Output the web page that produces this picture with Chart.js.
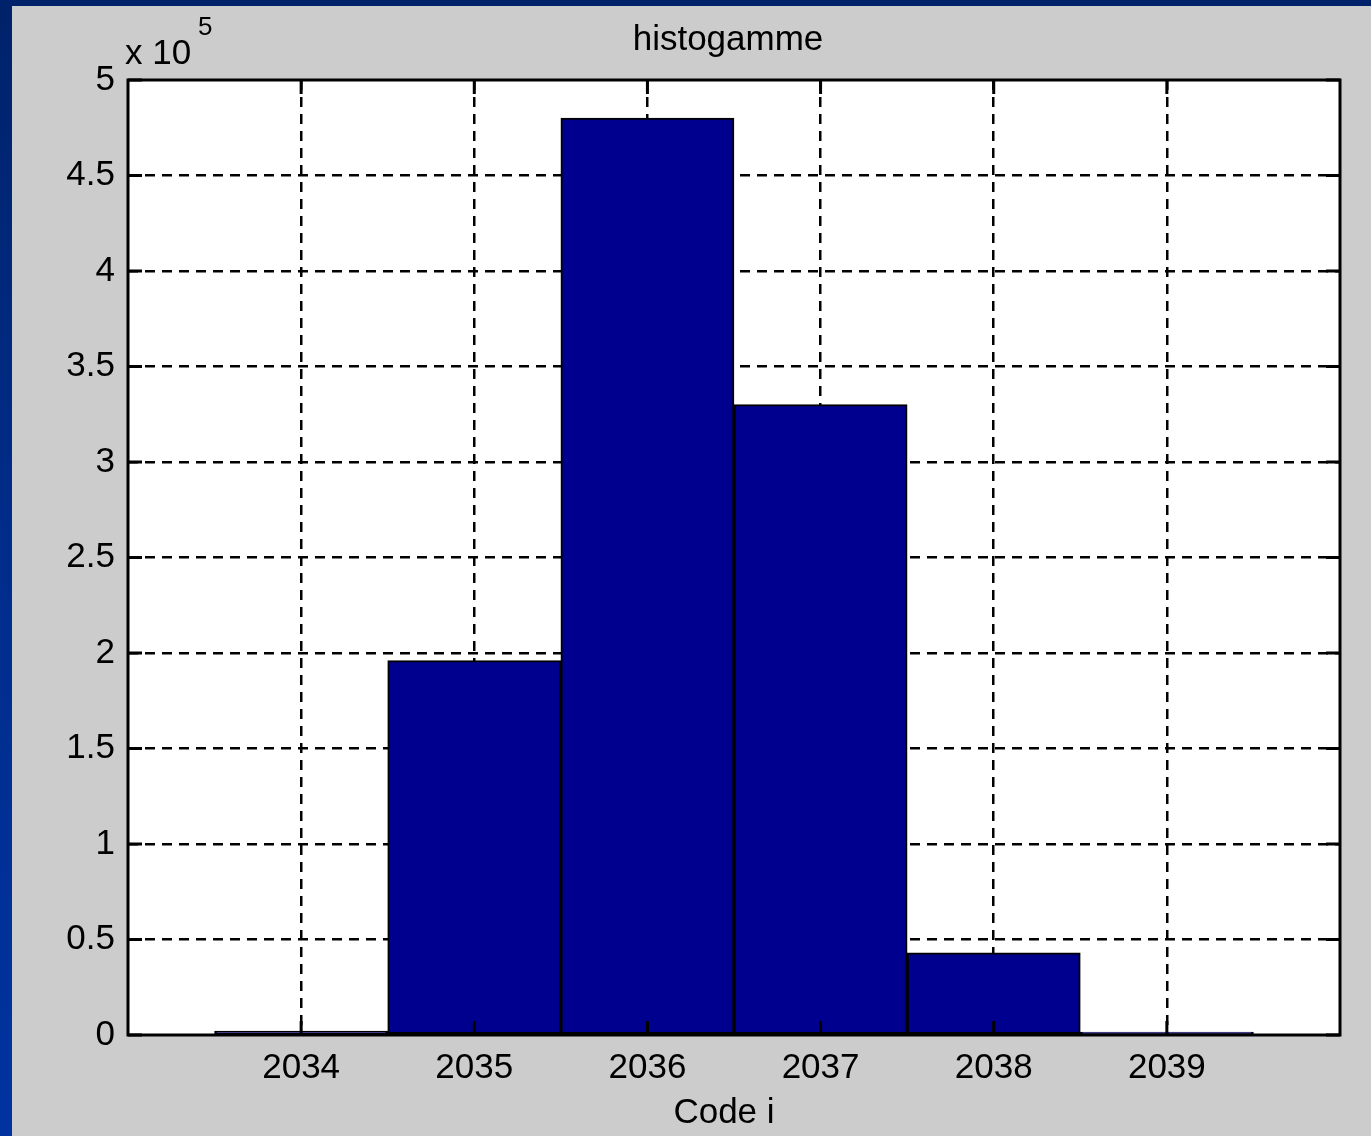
<!DOCTYPE html>
<html>
<head>
<meta charset="utf-8">
<title>histogamme</title>
<script src="https://cdn.jsdelivr.net/npm/chart.js@4.4.1/dist/chart.umd.min.js"></script>
<style>
  html, body { margin: 0; padding: 0; }
  body {
    width: 1371px; height: 1136px; overflow: hidden;
    background: linear-gradient(to bottom, #00226a 0%, #002d8c 50%, #0033a0 100%);
  }
  #panel {
    position: absolute; left: 12px; top: 6px;
    width: 1359px; height: 1130px; background: #cccccc;
  }
  canvas { display: block; }
</style>
</head>
<body>
<div id="panel"><canvas id="hist" width="1359" height="1130"></canvas></div>
<script>
// Histogram of code values
const categories = [2034, 2035, 2036, 2037, 2038, 2039];
const counts = [2000, 196000, 480000, 330000, 43000, 1500];
const yTickLabels = ['0', '0.5', '1', '1.5', '2', '2.5', '3', '3.5', '4', '4.5', '5'];
const titleText = 'histogamme';
const xLabelText = 'Code i';
const exponentBase = 'x 10';
const exponentPower = '5';

const FONT = "'Liberation Sans', Arial, sans-serif";
Chart.defaults.font.family = FONT;
Chart.defaults.color = '#000';

// MATLAB-style axes: white box, inward ticks, frame and labels
const axesDecor = {
  id: 'axesDecor',
  beforeDraw(chart) {
    const { ctx, chartArea: a } = chart;
    ctx.save();
    ctx.fillStyle = '#ffffff';
    ctx.fillRect(a.left, a.top, a.right - a.left, a.bottom - a.top);
    ctx.restore();
  },
  afterDraw(chart) {
    const { ctx, chartArea: a, scales } = chart;
    ctx.save();
    ctx.strokeStyle = '#000';
    ctx.lineWidth = 3;
    const tl = 14;
    // inward tick marks
    categories.forEach(v => {
      const px = scales.x.getPixelForValue(v);
      ctx.beginPath();
      ctx.moveTo(px, a.top); ctx.lineTo(px, a.top + tl);
      ctx.moveTo(px, a.bottom); ctx.lineTo(px, a.bottom - tl);
      ctx.stroke();
    });
    yTickLabels.forEach((_, i) => {
      const py = scales.y.getPixelForValue(i * 50000);
      ctx.beginPath();
      ctx.moveTo(a.left, py); ctx.lineTo(a.left + tl, py);
      ctx.moveTo(a.right, py); ctx.lineTo(a.right - tl, py);
      ctx.stroke();
    });
    // frame
    ctx.lineWidth = 3;
    ctx.strokeRect(a.left, a.top, a.right - a.left, a.bottom - a.top);

    // title, axis label, exponent
    ctx.fillStyle = '#000';
    ctx.textAlign = 'center';
    ctx.textBaseline = 'alphabetic';
    ctx.font = '35px ' + FONT;
    const cx = (a.left + a.right) / 2 - 6;
    ctx.fillText(titleText, cx, a.top - 30);
    ctx.fillText(xLabelText, cx - 4, a.bottom + 88);
    ctx.textAlign = 'left';
    ctx.fillText(exponentBase, a.left - 3, a.top - 16);
    ctx.font = '26px ' + FONT;
    ctx.fillText(exponentPower, a.left + 70, a.top - 45);
    ctx.restore();
  }
};

const gridColor = (ctx, lo, hi) => {
  const v = ctx.tick ? ctx.tick.value : null;
  return (v === lo || v === hi) ? 'rgba(0,0,0,0)' : '#000';
};

new Chart(document.getElementById('hist'), {
  type: 'bar',
  data: {
    datasets: [{
      data: categories.map((c, i) => ({ x: c, y: counts[i] })),
      backgroundColor: '#00008f',
      borderColor: '#000000',
      borderWidth: 2,
      borderSkipped: false,
      barPercentage: 1,
      categoryPercentage: 1
    }]
  },
  plugins: [axesDecor],
  options: {
    responsive: false,
    animation: false,
    devicePixelRatio: 1,
    layout: { padding: { top: 74, right: 31, left: 0, bottom: 0 } },
    plugins: { legend: { display: false }, tooltip: { enabled: false }, title: { display: false } },
    scales: {
      x: {
        type: 'linear',
        min: 2033,
        max: 2040,
        offset: false,
        afterFit(scale) { scale.height = 101; },
        ticks: {
          stepSize: 1,
          padding: 12,
          font: { size: 35 },
          color: '#000',
          callback: v => (categories.includes(v) ? String(v) : '')
        },
        grid: {
          offset: false,
          drawTicks: false,
          lineWidth: 2.5,
          color: ctx => gridColor(ctx, 2033, 2040)
        },
        border: { display: false, dash: [10, 7] }
      },
      y: {
        min: 0,
        max: 500000,
        afterFit(scale) { scale.width = 116; },
        ticks: {
          stepSize: 50000,
          padding: 13,
          font: { size: 35 },
          color: '#000',
          callback: v => yTickLabels[Math.round(v / 50000)]
        },
        grid: {
          drawTicks: false,
          lineWidth: 2.5,
          color: ctx => gridColor(ctx, 0, 500000)
        },
        border: { display: false, dash: [10, 7] }
      }
    }
  }
});
</script>
</body>
</html>
